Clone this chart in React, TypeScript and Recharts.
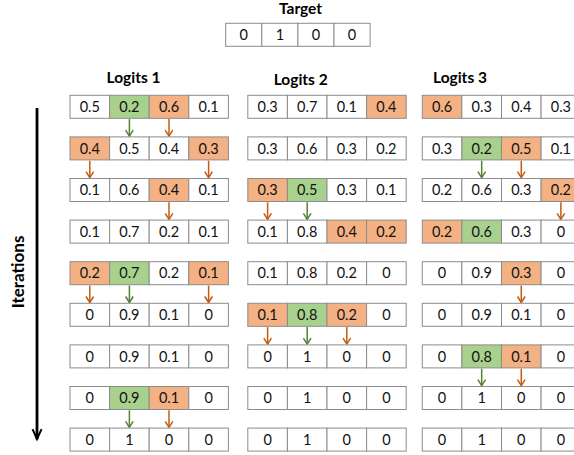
import React from 'react';
import { ScatterChart, Scatter, XAxis, YAxis } from 'recharts';

// ---------- data ----------
const TARGET = [0, 1, 0, 0];

const LOGITS_1 = [
  [0.5, 0.2, 0.6, 0.1],
  [0.4, 0.5, 0.4, 0.3],
  [0.1, 0.6, 0.4, 0.1],
  [0.1, 0.7, 0.2, 0.1],
  [0.2, 0.7, 0.2, 0.1],
  [0, 0.9, 0.1, 0],
  [0, 0.9, 0.1, 0],
  [0, 0.9, 0.1, 0],
  [0, 1, 0, 0],
];
const MARKS_1 = ['.GO.', 'O..O', '..O.', '....', 'OG.O', '....', '....', '.GO.', '....'];
const ARROWS_1: [number, number, string][] = [
  [0, 1, 'G'], [0, 2, 'O'], [1, 0, 'O'], [1, 3, 'O'], [2, 2, 'O'],
  [4, 0, 'O'], [4, 1, 'G'], [4, 3, 'O'], [7, 1, 'G'], [7, 2, 'O'],
];

const LOGITS_2 = [
  [0.3, 0.7, 0.1, 0.4],
  [0.3, 0.6, 0.3, 0.2],
  [0.3, 0.5, 0.3, 0.1],
  [0.1, 0.8, 0.4, 0.2],
  [0.1, 0.8, 0.2, 0],
  [0.1, 0.8, 0.2, 0],
  [0, 1, 0, 0],
  [0, 1, 0, 0],
  [0, 1, 0, 0],
];
const MARKS_2 = ['...O', '....', 'OG..', '..OO', '....', 'OGO.', '....', '....', '....'];
const ARROWS_2: [number, number, string][] = [
  [2, 0, 'O'], [2, 1, 'G'], [5, 0, 'O'], [5, 1, 'G'], [5, 2, 'O'],
];

const LOGITS_3 = [
  [0.6, 0.3, 0.4, 0.3],
  [0.3, 0.2, 0.5, 0.1],
  [0.2, 0.6, 0.3, 0.2],
  [0.2, 0.6, 0.3, 0],
  [0, 0.9, 0.3, 0],
  [0, 0.9, 0.1, 0],
  [0, 0.8, 0.1, 0],
  [0, 1, 0, 0],
  [0, 1, 0, 0],
];
const MARKS_3 = ['O...', '.GO.', '...O', 'OG..', '..O.', '....', '.GO.', '....', '....'];
const ARROWS_3: [number, number, string][] = [
  [1, 1, 'G'], [1, 2, 'O'], [2, 3, 'O'], [4, 2, 'O'], [6, 1, 'G'], [6, 2, 'O'],
];

const TITLES = ['Target', 'Logits 1', 'Logits 2', 'Logits 3'];
const AXIS_LABEL = 'Iterations';

// ---------- layout ----------
const W = 574;
const H = 455;
const PX_X = 39.6; // px per x unit (one cell)
const PX_Y = 41.6; // px per y unit (one iteration row)
const CELL_H = 23;
const X_MIN = -70 / PX_X;
const X_MAX = X_MIN + W / PX_X;
const Y_MIN = -106.8 / PX_Y;
const Y_MAX = Y_MIN + H / PX_Y;
const GRID_X0 = [0, 4.49, 8.896];
const TARGET_X0 = 3.932;
const TARGET_W = 0.9116;
const TARGET_Y = -1.731;
const TITLE_POS = [
  { x: 5.821, y: -2.356 },
  { x: 1.604, y: -0.704 },
  { x: 5.826, y: -0.668 },
  { x: 9.848, y: -0.704 },
];
const AXIS_LABEL_POS = { x: -1.313, y: 3.97 };
const ITER_ARROW = { x: -0.833, y0: 0.03, y1: 7.99 };

const FILLS: Record<string, string> = { '.': '#FFFFFF', G: '#A9D18E', O: '#F4B183' };
const ARROW_COLORS: Record<string, string> = { G: '#548235', O: '#C55A11' };
const FONT = 'Lato, "Open Sans", sans-serif';

const GRIDS = [LOGITS_1, LOGITS_2, LOGITS_3];
const MARKS = [MARKS_1, MARKS_2, MARKS_3];
const ARROWS = [ARROWS_1, ARROWS_2, ARROWS_3];

const cellData: any[] = [];
TARGET.forEach((v, c) => {
  cellData.push({ x: TARGET_X0 + (c + 0.5) * TARGET_W, y: TARGET_Y, w: TARGET_W, value: v, fill: '#FFFFFF' });
});
GRIDS.forEach((grid, g) => {
  grid.forEach((row, r) => {
    row.forEach((v, c) => {
      cellData.push({ x: GRID_X0[g] + c + 0.5, y: r, w: 1, value: v, fill: FILLS[MARKS[g][r][c]] });
    });
  });
});

const arrowData: any[] = [];
ARROWS.forEach((list, g) => {
  list.forEach(([r, c, k]) => {
    arrowData.push({ x: GRID_X0[g] + c + 0.5, y: r + 0.5, color: ARROW_COLORS[k] });
  });
});

const titleData = TITLES.map((t, i) => ({ ...TITLE_POS[i], label: t }));
const axisLabelData = [{ ...AXIS_LABEL_POS, label: AXIS_LABEL }];
const iterData = [
  { x: ITER_ARROW.x, y: ITER_ARROW.y0, tip: false },
  { x: ITER_ARROW.x, y: ITER_ARROW.y1, tip: true },
];

// ---------- shapes ----------
const CellShape = (props: any) => {
  const { cx, cy, payload } = props;
  if (cx == null || cy == null) return <g />;
  const w = payload.w * PX_X;
  return (
    <g>
      <rect x={cx - w / 2} y={cy - CELL_H / 2} width={w} height={CELL_H} fill={payload.fill} stroke="#8C8C8C" strokeWidth={1} />
      <text x={cx} y={cy} dy="0.36em" textAnchor="middle" fontFamily={FONT} fontSize={14.5} fill="#111">
        {String(payload.value)}
      </text>
    </g>
  );
};

const ArrowShape = (props: any) => {
  const { cx, cy, payload } = props;
  if (cx == null || cy == null) return <g />;
  const top = cy - 8.5;
  const tip = cy + 8.5;
  return (
    <g stroke={payload.color} strokeWidth={1.5} fill="none">
      <line x1={cx} y1={top} x2={cx} y2={tip} />
      <polyline points={`${cx - 3.8},${tip - 6} ${cx},${tip} ${cx + 3.8},${tip - 6}`} />
    </g>
  );
};

const TitleShape = (props: any) => {
  const { cx, cy, payload } = props;
  if (cx == null || cy == null) return <g />;
  return (
    <text x={cx} y={cy} dy="0.36em" textAnchor="middle" fontFamily={FONT} fontWeight="bold" fontSize={15.5} fill="#000">
      {payload.label}
    </text>
  );
};

const AxisLabelShape = (props: any) => {
  const { cx, cy, payload } = props;
  if (cx == null || cy == null) return <g />;
  return (
    <text x={cx} y={cy} dy="0.36em" textAnchor="middle" fontFamily={FONT} fontWeight="bold" fontSize={17} fill="#000"
      transform={`rotate(-90 ${cx} ${cy})`}>
      {payload.label}
    </text>
  );
};

const IterShape = (props: any) => {
  const { cx, cy, payload } = props;
  if (cx == null || cy == null || !payload.tip) return <g />;
  return (
    <polyline points={`${cx - 4.5},${cy - 10} ${cx},${cy} ${cx + 4.5},${cy - 10}`} stroke="#000" strokeWidth={2} fill="none" />
  );
};

export default function App() {
  return (
    <div style={{ position: 'absolute', left: 0, top: 0, width: W, height: H, background: '#fff' }}>
      <ScatterChart width={W} height={H} margin={{ top: 0, right: 0, bottom: 0, left: 0 }} style={{ overflow: 'visible' }}>
        <XAxis type="number" dataKey="x" domain={[X_MIN, X_MAX]} hide />
        <YAxis type="number" dataKey="y" domain={[Y_MIN, Y_MAX]} reversed hide />
        <Scatter data={iterData} line={{ stroke: '#000', strokeWidth: 2.8 }} shape={IterShape} isAnimationActive={false} />
        <Scatter data={arrowData} shape={ArrowShape} isAnimationActive={false} />
        <Scatter data={cellData} shape={CellShape} isAnimationActive={false} />
        <Scatter data={titleData} shape={TitleShape} isAnimationActive={false} />
        <Scatter data={axisLabelData} shape={AxisLabelShape} isAnimationActive={false} />
      </ScatterChart>
    </div>
  );
}
